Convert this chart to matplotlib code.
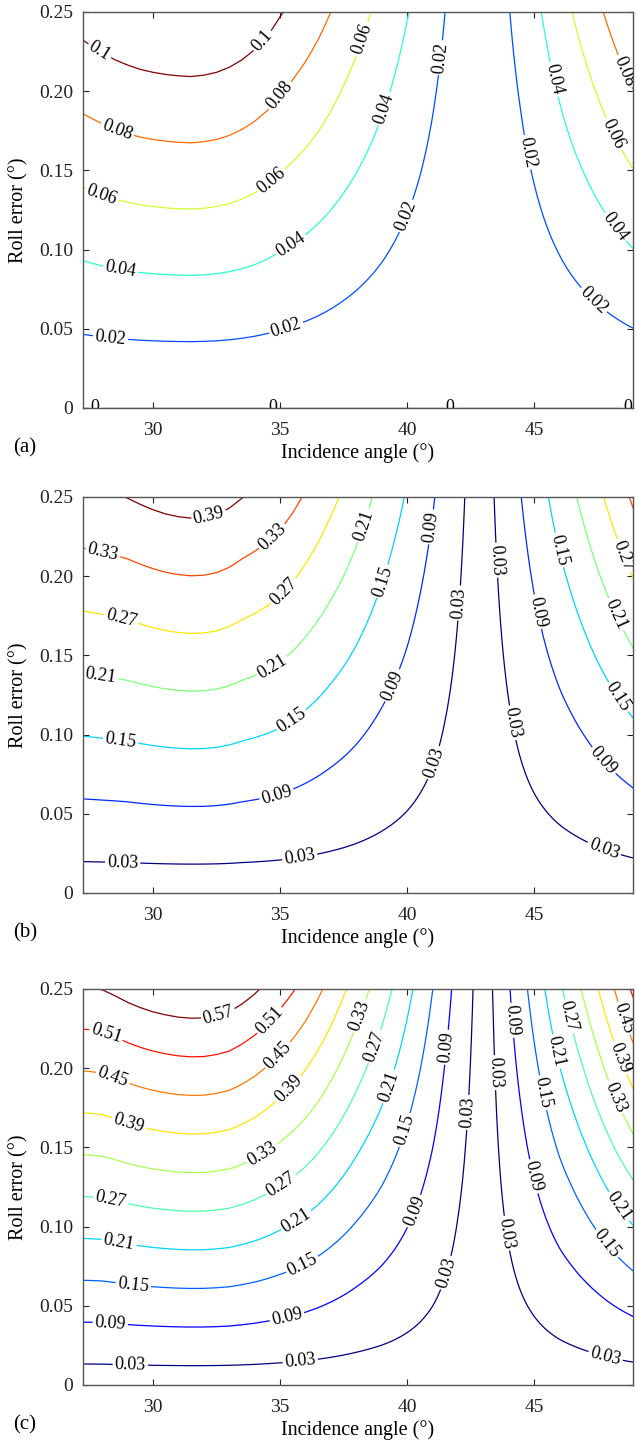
import matplotlib
matplotlib.use("Agg")
import matplotlib.pyplot as plt
import numpy as np

plt.rcParams["font.family"] = ["Liberation Serif", "DejaVu Serif"]

# roll error axis (deg)
roll = np.linspace(0.0, 0.25, 251)

# error per unit of roll error, read along the incidence angle axis
theta_a = [27.2, 27.5, 28, 28.5, 29, 29.5, 30, 30.5, 31, 31.5, 32, 32.5, 33, 33.5, 34,
           34.5, 35, 35.5, 36, 36.5, 37, 37.5, 38, 38.5, 39, 39.5, 40, 40.5, 41, 41.5,
           42, 42.5, 42.77, 43, 43.5, 44, 44.5, 45, 45.5, 46, 46.5, 47, 47.5, 48, 48.5, 49]
factor_a = [0.43, 0.436, 0.446, 0.455, 0.462, 0.468, 0.472, 0.475, 0.477, 0.478, 0.476,
            0.472, 0.465, 0.455, 0.442, 0.426, 0.405, 0.386, 0.366, 0.344, 0.32, 0.295,
            0.27, 0.244, 0.218, 0.191, 0.164, 0.137, 0.109, 0.08, 0.051, 0.021, 0.004,
            0.015, 0.047, 0.077, 0.108, 0.141, 0.174, 0.207, 0.24, 0.272, 0.305, 0.338,
            0.371, 0.404]
levels_a = [0, 0.02, 0.04, 0.06, 0.08, 0.1]

theta_b = [27.2, 27.5, 28, 28.5, 29, 29.5, 30, 30.5, 31, 31.5, 32, 32.5, 33, 33.5, 34,
           34.5, 35, 35.5, 36, 36.5, 37, 37.5, 38, 38.5, 39, 39.5, 40, 40.5, 41, 41.5,
           42, 42.3, 42.87, 43.43, 44, 44.5, 45, 45.5, 46, 46.5, 47, 47.5, 48, 48.5, 49]
factor_b = [1.515, 1.522, 1.535, 1.548, 1.565, 1.59, 1.612, 1.63, 1.642, 1.648, 1.645,
            1.632, 1.605, 1.565, 1.53, 1.49, 1.44, 1.375, 1.3, 1.22, 1.135, 1.05, 0.96,
            0.865, 0.77, 0.675, 0.58, 0.48, 0.38, 0.275, 0.175, 0.115, 0.005, 0.12,
            0.245, 0.36, 0.475, 0.585, 0.695, 0.8, 0.91, 1.025, 1.14, 1.26, 1.38]
levels_b = [0.03, 0.09, 0.15, 0.21, 0.27, 0.33, 0.39]

theta_c = [27.2, 27.5, 28, 28.5, 29, 29.5, 30, 30.5, 31, 31.5, 32, 32.5, 33, 33.5, 34,
           34.5, 35, 35.5, 36, 36.5, 37, 37.5, 38, 38.5, 39, 39.5, 40, 40.5, 41, 41.5,
           42, 42.3, 42.6, 43.0, 43.4, 43.8, 44.2, 44.6, 45, 45.5, 46, 46.5, 47, 47.5,
           48, 48.5, 49]
factor_c = [2.27, 2.274, 2.285, 2.32, 2.36, 2.393, 2.42, 2.44, 2.455, 2.462, 2.46, 2.445,
            2.42, 2.37, 2.31, 2.235, 2.15, 2.06, 1.96, 1.845, 1.72, 1.59, 1.455, 1.325,
            1.195, 1.055, 0.91, 0.76, 0.605, 0.44, 0.285, 0.2, 0.12, 0.01, 0.13, 0.27,
            0.41, 0.55, 0.69, 0.865, 1.04, 1.2, 1.37, 1.55, 1.74, 1.93, 2.12]
levels_c = [0.03, 0.09, 0.15, 0.21, 0.27, 0.33, 0.39, 0.45, 0.51, 0.57]

# where the contour labels sit (data coords)
label_pos_a = [(27.7, 0.0), (34.7, 0.0), (41.7, 0.0), (48.7, 0.0),
               (28.0, 0.228), (34.3, 0.232),
               (28.6, 0.176), (35.1, 0.196), (48.35, 0.211),
               (27.9, 0.131), (34.7, 0.143), (38.4, 0.232), (47.9, 0.171),
               (28.7, 0.086), (35.5, 0.101), (39.25, 0.188), (45.7, 0.207), (48.0, 0.112),
               (28.3, 0.041), (35.27, 0.049), (40.16, 0.12), (41.4, 0.221),
               (44.6, 0.161), (47.17, 0.065)]
label_pos_b = [(32.2, 0.238),
               (28.0, 0.213), (34.7, 0.225),
               (28.7, 0.17), (35.1, 0.191), (48.35, 0.212),
               (27.9, 0.133), (34.7, 0.143), (38.5, 0.231), (47.95, 0.174),
               (28.7, 0.093), (35.5, 0.108), (39.17, 0.196), (45.87, 0.216), (48.15, 0.122),
               (34.9, 0.06), (41.0, 0.231), (39.57, 0.13), (45.0, 0.177), (47.56, 0.081),
               (28.8, 0.018), (35.8, 0.02), (41.1, 0.082), (42.13, 0.183),
               (43.4, 0.21), (44.0, 0.107), (47.7, 0.025)]
label_pos_c = [(32.6, 0.232),
               (28.0, 0.216), (34.6, 0.23),
               (28.3, 0.189), (35.0, 0.207), (48.6, 0.232),
               (29.0, 0.162), (35.4, 0.186), (48.5, 0.207),
               (34.3, 0.146), (38.3, 0.232), (48.1, 0.181),
               (28.3, 0.114), (35.1, 0.125), (38.85, 0.213), (46.2, 0.232),
               (28.6, 0.085), (35.67, 0.103), (39.37, 0.188), (45.75, 0.21), (48.1, 0.11),
               (29.2, 0.06), (35.9, 0.075), (39.9, 0.161), (45.2, 0.184), (47.7, 0.087),
               (28.3, 0.036), (35.3, 0.041), (40.24, 0.11), (41.65, 0.213),
               (44.0, 0.23), (44.8, 0.131),
               (29.1, 0.01), (35.8, 0.014), (41.5, 0.071), (42.44, 0.172),
               (43.23, 0.197), (43.6, 0.095), (47.8, 0.017)]

panels = [
    ("(a)", theta_a, factor_a, levels_a, (0.0, 0.1), label_pos_a, 0.7175),
    ("(b)", theta_b, factor_b, levels_b, (0.03, 0.39), label_pos_b, 0.3816),
    ("(c)", theta_c, factor_c, levels_c, (0.03, 0.57), label_pos_c, 0.0409),
]

fig = plt.figure(figsize=(6.36, 14.44), dpi=100)
ax_h = 396 / 1444
for tag, theta, factor, levels, (vmin, vmax), lpos, bottom in panels:
    ax = fig.add_axes([83 / 636, bottom, 550 / 636, ax_h])
    z = np.outer(roll, factor)
    cs = ax.contour(theta, roll, z, levels=levels, cmap="jet", vmin=vmin, vmax=vmax,
                    linewidths=0.9)
    texts = ax.clabel(cs, fmt="%g", fontsize=13, colors="k", inline=True,
                      inline_spacing=2, manual=lpos)
    for t in texts:
        if t.get_text() == "0":
            t.set_clip_on(True)
    ax.set_xlim(27.24, 48.9)
    ax.set_ylim(0, 0.25)
    ax.set_xticks([30, 35, 40, 45])
    ax.set_yticks([0, 0.05, 0.10, 0.15, 0.20, 0.25])
    ax.set_yticklabels(["0", "0.05", "0.10", "0.15", "0.20", "0.25"])
    ax.tick_params(direction="in", top=True, right=True, length=4, width=0.8,
                   labelsize=14, colors="#222")
    ax.tick_params(axis="x", pad=10)
    ax.tick_params(axis="y", pad=7)
    for sp in ax.spines.values():
        sp.set_color("#555")
        sp.set_linewidth(1.0)
    ax.set_xlabel("Incidence angle (°)", fontsize=14.5, labelpad=3)
    ax.set_ylabel("Roll error (°)", fontsize=14.5)
    ax.yaxis.set_label_coords(-0.1, 0.5)
    fig.text(13 / 636, bottom - 40 / 1444, tag, fontsize=15, va="center", ha="left")

fig.savefig("out.png", dpi=100)
